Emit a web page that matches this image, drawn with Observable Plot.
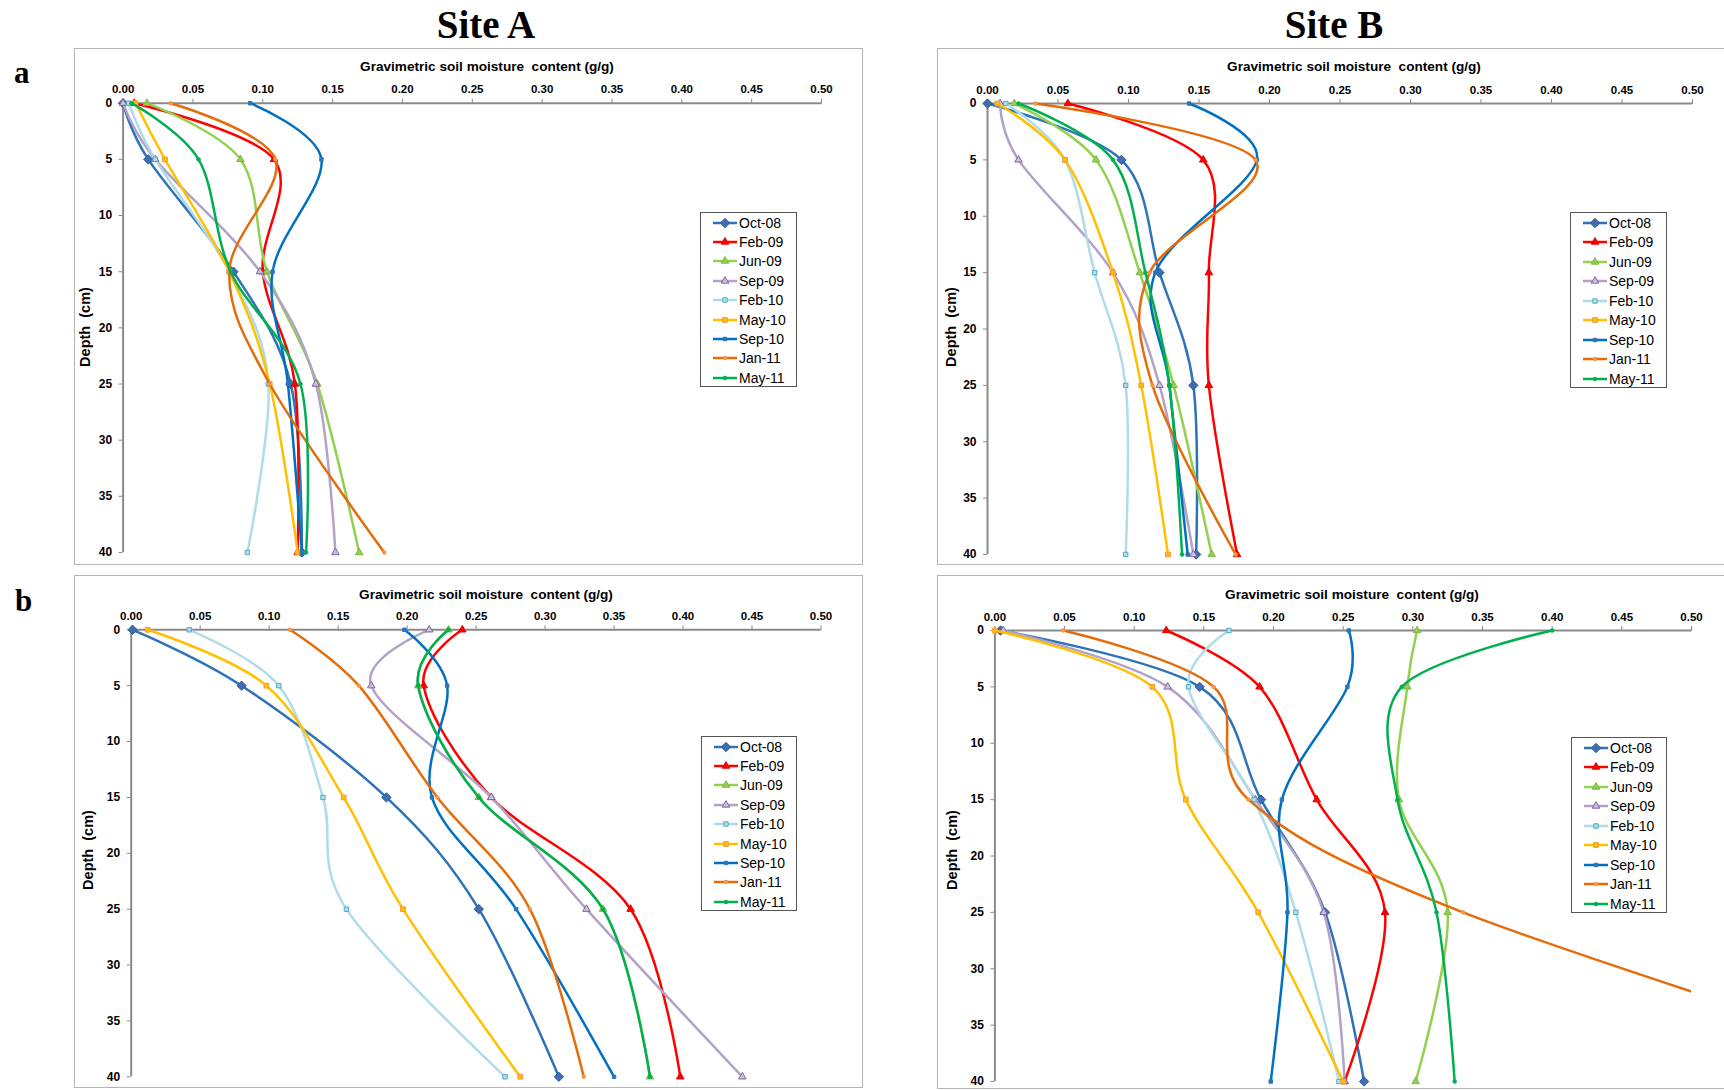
<!DOCTYPE html>
<html>
<head>
<meta charset="utf-8">
<script src="https://cdn.jsdelivr.net/npm/d3@7"></script>
<script src="https://cdn.jsdelivr.net/npm/@observablehq/plot@0.6"></script>
<style>
  html, body { margin: 0; padding: 0; background: #fff; }
  body { width: 1724px; height: 1090px; position: relative; overflow: hidden; font-family: "Liberation Sans", Arial, sans-serif; }
  .box { position: absolute; border: 1px solid #b4b4b4; box-sizing: border-box; }
  .plot { position: absolute; }
  .plot svg { display: block; }
  .site { position: absolute; font-family: "Liberation Serif", "DejaVu Serif", serif; font-weight: bold; font-size: 39px; transform: translate(-50%, -50%); white-space: nowrap; line-height: 1; }
  .letter { position: absolute; font-family: "Liberation Serif", "DejaVu Serif", serif; font-weight: bold; font-size: 31px; line-height: 1; }
  .xtitle { position: absolute; font-weight: bold; font-size: 13.6px; transform: translate(-50%, -50%); white-space: pre; line-height: 1; }
  .ytitle { position: absolute; font-weight: bold; font-size: 14.5px; transform: translate(-50%, -50%) rotate(-90deg); white-space: pre; line-height: 1; }
  .legend { position: absolute; border: 1px solid #555; box-sizing: border-box; background: #fff; }
  .legend .row { position: absolute; left: 0; height: 18px; display: flex; align-items: center; font-size: 14px; white-space: nowrap; }
  .legend .row svg { display: block; margin-left: 12px; margin-right: 2px; }
</style>
</head>
<body>
<script>
// ---------- data ----------
const depths = [0, 5, 15, 25, 40];
const seriesNames = ["Oct-08", "Feb-09", "Jun-09", "Sep-09", "Feb-10", "May-10", "Sep-10", "Jan-11", "May-11"];
const xTicks = [0, 0.05, 0.10, 0.15, 0.20, 0.25, 0.30, 0.35, 0.40, 0.45, 0.50];
const depthTicks = [0, 5, 10, 15, 20, 25, 30, 35, 40];

// values per series (rows follow seriesNames), columns follow depths
const siteA_a = [
  [0.000, 0.018, 0.079, 0.120, 0.128],
  [0.008, 0.108, 0.100, 0.123, 0.125],
  [0.017, 0.084, 0.103, 0.139, 0.169],
  [0.000, 0.023, 0.098, 0.138, 0.152],
  [0.004, 0.023, 0.076, 0.104, 0.089],
  [0.009, 0.030, 0.076, 0.105, 0.125],
  [0.091, 0.142, 0.107, 0.118, 0.128],
  [0.034, 0.109, 0.076, 0.105, 0.187],
  [0.006, 0.054, 0.077, 0.127, 0.131]
];
const siteB_a = [
  [0.000, 0.095, 0.122, 0.146, 0.148],
  [0.057, 0.153, 0.157, 0.157, 0.177],
  [0.019, 0.077, 0.108, 0.132, 0.159],
  [0.009, 0.022, 0.089, 0.122, 0.146],
  [0.013, 0.055, 0.076, 0.098, 0.098],
  [0.007, 0.055, 0.089, 0.109, 0.128],
  [0.143, 0.191, 0.119, 0.129, 0.142],
  [0.034, 0.190, 0.115, 0.117, 0.176],
  [0.022, 0.089, 0.112, 0.129, 0.138]
];
const siteA_b = [
  [0.001, 0.080, 0.185, 0.252, 0.310],
  [0.240, 0.212, 0.261, 0.362, 0.398],
  [0.230, 0.208, 0.252, 0.342, 0.376],
  [0.216, 0.174, 0.261, 0.330, 0.443],
  [0.042, 0.107, 0.139, 0.156, 0.271],
  [0.012, 0.098, 0.154, 0.197, 0.282],
  [0.198, 0.229, 0.218, 0.279, 0.350],
  [0.115, 0.165, 0.222, 0.289, 0.328],
  [0.230, 0.208, 0.252, 0.342, 0.376]
];
const siteB_b = [
  [0.004, 0.147, 0.191, 0.237, 0.265],
  [0.123, 0.190, 0.231, 0.280, 0.251],
  [0.303, 0.296, 0.290, 0.325, 0.302],
  [0.006, 0.124, 0.187, 0.236, 0.251],
  [0.168, 0.139, 0.186, 0.216, 0.247],
  [0.000, 0.113, 0.137, 0.189, 0.250],
  [0.254, 0.253, 0.206, 0.210, 0.198],
  [0.049, 0.157, 0.182, 0.336, 0.700],
  [0.400, 0.292, 0.289, 0.317, 0.330]
];

// ---------- styles ----------
const lineColors   = ["#2e73b8", "#ff0000", "#92d050", "#b3a2c7", "#b0dbe8", "#ffc000", "#0070c0", "#e46c0a", "#00b050"];
const markerSymbol = ["diamond2", "triangle2", "triangle2", "triangle2", "square2", "square2", "square2", "circle", "circle"];
const markerFill   = ["#3f6fb0", "#ff0000", "#92d050", "#ccc0da", "#b7dee8", "#ffc000", "#2e75b6", "#f79646", "#00b050"];
const markerStroke = ["#2e5c9a", "#e00000", "#7fb73f", "#8064a2", "#4bacc6", "#f79646", "#2e75b6", "#f79646", "#00b050"];
const markerR      = [4.2, 3.6, 3.6, 3.6, 2.8, 3.0, 2.2, 1.8, 1.8];
const d3Sym = {diamond2: d3.symbolDiamond2, triangle2: d3.symbolTriangle2, square2: d3.symbolSquare2, circle: d3.symbolCircle};

function makePanel(values, cfg) {
  const data = [];
  seriesNames.forEach((s, i) => depths.forEach((d, j) => data.push({series: s, idx: i, depth: d, value: values[i][j]})));
  const marks = [
    Plot.ruleY([0], {stroke: "#8a8a8a", strokeWidth: 2}),
    Plot.ruleX([0], {stroke: "#8a8a8a", strokeWidth: 2}),
    Plot.axisX({anchor: "top", ticks: xTicks, tickFormat: d3.format(".2f"), tickSize: 5, tickPadding: 5,
      stroke: "#8a8a8a", fill: "#000", fontWeight: "bold", fontSize: 11.5, label: null}),
    Plot.axisY({anchor: "left", ticks: depthTicks, tickSize: 4, tickPadding: 7,
      stroke: "#8a8a8a", fill: "#000", fontWeight: "bold", fontSize: 12, label: null})
  ];
  seriesNames.forEach((s, i) => {
    const d = data.filter(r => r.idx === i);
    const needsClip = d.some(r => r.value > 0.5);
    marks.push(Plot.line(d, {x: "value", y: "depth", stroke: lineColors[i], strokeWidth: 2.5, curve: "cardinal", clip: needsClip ? "frame" : false}));
    marks.push(Plot.dot(d.filter(r => r.value <= 0.5), {x: "value", y: "depth", symbol: markerSymbol[i], r: markerR[i], fill: markerFill[i], stroke: markerStroke[i], strokeWidth: 1}));
  });
  const plot = Plot.plot({
    width: cfg.w, height: cfg.h,
    marginLeft: cfg.ml, marginRight: cfg.mr, marginTop: cfg.mt, marginBottom: cfg.mb,
    x: {domain: [0, 0.5]},
    y: {domain: [0, 40], reverse: true},
    style: {fontFamily: "'Liberation Sans', Arial, sans-serif", background: "transparent", overflow: "visible", color: "#000"},
    marks
  });
  const holder = document.createElement("div");
  holder.className = "plot";
  holder.style.left = cfg.x + "px";
  holder.style.top = cfg.y + "px";
  holder.appendChild(plot);
  document.body.appendChild(holder);

  const box = document.createElement("div");
  box.className = "box";
  Object.assign(box.style, {left: cfg.x + "px", top: cfg.y + "px", width: cfg.bw + "px", height: cfg.bh + "px"});
  document.body.insertBefore(box, document.body.firstChild);

  const xt = document.createElement("div");
  xt.className = "xtitle";
  xt.textContent = "Gravimetric soil moisture  content (g/g)";
  xt.style.left = cfg.xtx + "px"; xt.style.top = cfg.xty + "px";
  document.body.appendChild(xt);

  const yt = document.createElement("div");
  yt.className = "ytitle";
  yt.textContent = "Depth  (cm)";
  yt.style.left = cfg.ytx + "px"; yt.style.top = cfg.yty + "px";
  document.body.appendChild(yt);

  const lg = document.createElement("div");
  lg.className = "legend";
  Object.assign(lg.style, {left: cfg.lx + "px", top: cfg.ly + "px", width: cfg.lw + "px", height: cfg.lh + "px"});
  seriesNames.forEach((s, i) => {
    const row = document.createElement("div");
    row.className = "row";
    row.style.top = (cfg.lrow0 - 9 + i * cfg.lstep) + "px";
    const sw = d3.create("svg").attr("width", 24).attr("height", 12);
    sw.append("line").attr("x1", 0).attr("x2", 24).attr("y1", 6).attr("y2", 6).attr("stroke", lineColors[i]).attr("stroke-width", 2.5);
    sw.append("path").attr("transform", "translate(12,6)")
      .attr("d", d3.symbol(d3Sym[markerSymbol[i]], Math.PI * markerR[i] * markerR[i])())
      .attr("fill", markerFill[i]).attr("stroke", markerStroke[i]).attr("stroke-width", 1);
    row.appendChild(sw.node());
    const t = document.createElement("span");
    t.textContent = s;
    row.appendChild(t);
    lg.appendChild(row);
  });
  document.body.appendChild(lg);
}

makePanel(siteA_a, {x: 74, y: 48, w: 788, h: 516, bw: 789, bh: 517, ml: 48.6, mr: 41, mt: 54.7, mb: 12,
  xtx: 487, xty: 66.5, ytx: 85, yty: 327,
  lx: 700, ly: 212, lw: 97, lh: 175, lrow0: 9.6, lstep: 19.4});
makePanel(siteB_a, {x: 937, y: 48, w: 787, h: 517, bw: 800, bh: 517, ml: 50, mr: 32, mt: 55, mb: 11,
  xtx: 1354, xty: 66.5, ytx: 951, yty: 327,
  lx: 1570, ly: 212, lw: 97, lh: 176, lrow0: 9.6, lstep: 19.5});
makePanel(siteA_b, {x: 74, y: 575, w: 788, h: 512, bw: 789, bh: 513, ml: 56.7, mr: 41.5, mt: 54.3, mb: 10.7,
  xtx: 486, xty: 595, ytx: 88, yty: 850,
  lx: 701, ly: 736, lw: 96, lh: 175, lrow0: 9.6, lstep: 19.4});
makePanel(siteB_b, {x: 937, y: 575, w: 787, h: 515, bw: 800, bh: 514, ml: 57.4, mr: 33, mt: 55, mb: 9,
  xtx: 1352, xty: 595, ytx: 952, yty: 850,
  lx: 1571, ly: 737, lw: 96, lh: 176, lrow0: 9.6, lstep: 19.5});

// titles
[["Site A", 486, 24], ["Site B", 1334, 24]].forEach(([t, x, y]) => {
  const el = document.createElement("div");
  el.className = "site"; el.textContent = t;
  el.style.left = x + "px"; el.style.top = y + "px";
  document.body.appendChild(el);
});
[["a", 14, 57], ["b", 15, 585]].forEach(([t, x, y]) => {
  const el = document.createElement("div");
  el.className = "letter"; el.textContent = t;
  el.style.left = x + "px"; el.style.top = y + "px";
  document.body.appendChild(el);
});
</script>
</body>
</html>
